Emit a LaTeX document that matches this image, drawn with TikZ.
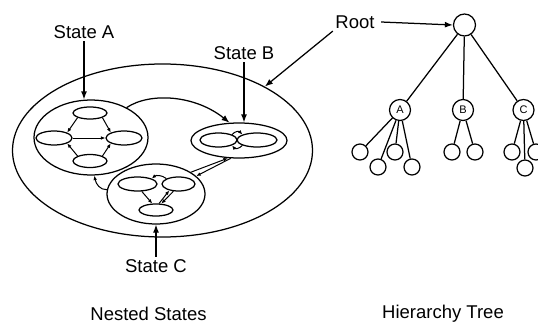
\documentclass[tikz,border=0pt]{standalone}
\usepackage{fontspec}
\setmainfont{Liberation Sans}
\usetikzlibrary{shapes.geometric,arrows.meta,calc}
\begin{document}
\begin{tikzpicture}[x=1pt,y=-1pt,
  every path/.style={line width=1.25pt},
  ell/.style={draw,ellipse,inner sep=0pt,line width=1.25pt},
  lbl/.style={font=\fontsize{18.5}{22}\selectfont,inner sep=2pt},
  big/.style={-{Latex[length=8pt,width=6pt]},line width=1.25pt},
  sm/.style={-{Latex[length=4.5pt,width=3.6pt]},line width=1pt},
  tnode/.style={draw,circle,inner sep=0pt,minimum size=#1,line width=1.25pt,font=\fontsize{11}{12}\selectfont}
]
\useasboundingbox (0,0) rectangle (538,329);
% outer ellipse
\node[ell,minimum width=300pt,minimum height=173pt] (outer) at (162.5,150.5) {};
% state A
\node[ell,minimum width=114pt,minimum height=75pt] (A) at (91,137.5) {};
\node[ell,minimum width=34pt,minimum height=12pt] (Atop) at (90,113) {};
\node[ell,minimum width=36pt,minimum height=14pt] (Aleft) at (54,138) {};
\node[ell,minimum width=36pt,minimum height=14pt] (Aright) at (124,138) {};
\node[ell,minimum width=34pt,minimum height=13pt] (Abot) at (90,161) {};
\draw[sm] (Atop.south west) -- (Aleft.north east);
\draw[sm] (Atop.south east) -- (Aright.north west);
\draw[sm] (Aleft.east) -- (Aright.west);
\draw[sm] (Abot.north west) -- (Aleft.south east);
\draw[sm] (Abot.north east) -- (Aright.south west);
% state B
\node[ell,minimum width=96pt,minimum height=35pt] (B) at (239,140.5) {};
\node[ell,minimum width=37pt,minimum height=14pt] (Bleft) at (218.5,140) {};
\node[ell,minimum width=40pt,minimum height=14pt] (Bright) at (257,140) {};
\draw[sm] (Bleft.north east) .. controls (235,131) and (239,131) .. (Bright.north west);
\draw[sm] (Bright.south west) .. controls (239,149) and (235,149) .. (Bleft.south east);
% state C
\node[ell,minimum width=98pt,minimum height=60pt] (C) at (156,194) {};
\node[ell,minimum width=39pt,minimum height=14pt] (Cleft) at (137.5,184) {};
\node[ell,minimum width=33pt,minimum height=14pt] (Cright) at (178.5,184) {};
\node[ell,minimum width=34pt,minimum height=12pt] (Cbot) at (156,210) {};
\draw[sm] (Cright.north west) .. controls (162,175) and (156,175) .. (Cleft.north east);
\draw[sm] (Cleft.300) -- (Cbot.120);
\draw[sm] (Cbot.65) -- (Cright.215);
\draw[sm] (Cright.235) -- (Cbot.50);
% inter-state arrows
\draw[big] (A.40) .. controls (150,92) and (195,95) .. (B.118);
\draw[sm] (C.32) -- (B.238);
\draw[sm] (B.245) -- (C.24);
\draw[sm] (C.175) .. controls (100,190) and (96,184) .. (A.275);
% labels
\node[lbl] (StateA) at (84,32) {State A};
\node[lbl] (StateB) at (244,53) {State B};
\node[lbl] (StateC) at (156,266) {State C};
\node[lbl] (Root) at (355,22) {Root};
\draw[big] (StateA.south) -- (StateA.south |- A.north);
\draw[big] (StateB.south) -- (StateB.south |- B.north);
\draw[big] (StateC.north) -- (StateC.north |- C.south);
\draw[big] (Root.south west) -- (outer.32);
% tree
\node[tnode=22pt] (root) at (464.5,25) {};
\draw[big] ([xshift=4pt]Root.east) -- (root.west);
\node[tnode=21pt] (tA) at (400,110) {A};
\node[tnode=21pt] (tB) at (463,110) {B};
\node[tnode=21pt] (tC) at (523.5,110) {C};
\draw (root) -- (tA);
\draw (root) -- (tB);
\draw (root) -- (tC);
\node[tnode=16pt] (a1) at (360,152) {};
\node[tnode=16pt] (a2) at (395,152) {};
\node[tnode=16pt] (a3) at (378,167) {};
\node[tnode=16pt] (a4) at (412,167) {};
\node[tnode=16pt] (b1) at (452,152) {};
\node[tnode=16pt] (b2) at (475,152) {};
\node[tnode=16pt] (c1) at (512,152) {};
\node[tnode=16pt] (c2) at (536,152) {};
\node[tnode=16pt] (c3) at (525,168) {};
\foreach \ch in {a1,a2,a3,a4} \draw (tA) -- (\ch);
\foreach \ch in {b1,b2} \draw (tB) -- (\ch);
\foreach \ch in {c1,c2,c3} \draw (tC) -- (\ch);
% captions
\node[lbl] (cap1) at (148.5,314) {Nested States};
\node[lbl] (cap2) at (443,314) {Hierarchy Tree};
\end{tikzpicture}
\end{document}
